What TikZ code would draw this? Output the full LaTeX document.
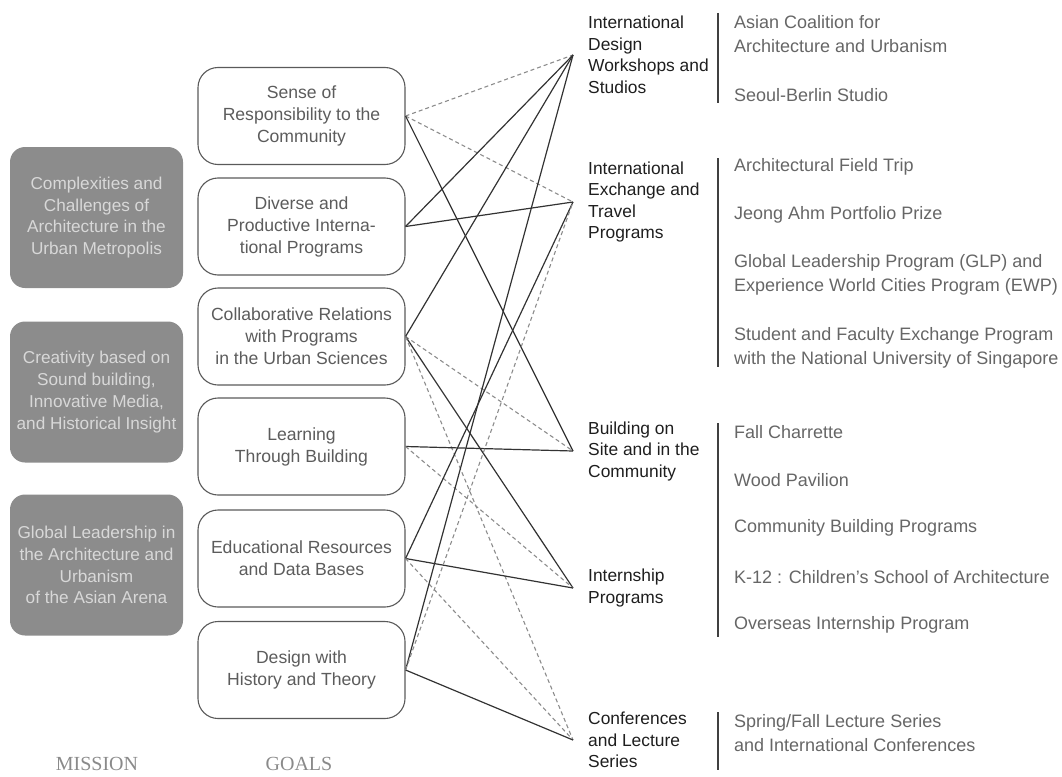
\documentclass[tikz,border=0pt]{standalone}
\usepackage{fontspec}
\setmainfont{Liberation Sans}
\newfontfamily\headfont{Liberation Serif}
\usepackage{xcolor}
\usepackage{tikz}

\definecolor{missionfill}{HTML}{8C8C8C}
\definecolor{missiontext}{HTML}{D8D8D8}
\definecolor{goalline}{HTML}{5A5A5A}
\definecolor{goaltext}{HTML}{5C5C5C}
\definecolor{areatext}{HTML}{1E1E1E}
\definecolor{entrytext}{HTML}{666666}
\definecolor{headtext}{HTML}{8A8A8A}

\begin{document}
\begin{tikzpicture}[
  x=1pt, y=-1pt,
  every node/.style={font=\fontsize{17.2}{21.7}\selectfont},
  mission/.style={rounded corners=15pt, fill=missionfill, text=missiontext,
    minimum width=173pt, minimum height=141pt, align=center, inner sep=0pt},
  goal/.style={draw=goalline, line width=1.1pt, rounded corners=20pt, text=goaltext,
    minimum width=207pt, minimum height=97pt, align=center, inner sep=0pt,
    font=\fontsize{17.6}{22}\selectfont},
  areabox/.style={anchor=west, align=left, inner xsep=15pt, inner ysep=0pt,
    text=areatext, font=\fontsize{17.4}{21.5}\selectfont},
  entry/.style={anchor=west, align=left, inner sep=0pt, text=entrytext,
    font=\fontsize{18}{24}\selectfont},
  head/.style={text=headtext, font=\headfont\fontsize{20}{24}\selectfont},
  bar/.style={draw=black!75, line width=2.4pt},
  link/.style={draw=black!80, line width=1.2pt},
  weaklink/.style={draw=black!45, line width=1.1pt, dash pattern=on 4pt off 3pt}
]
  \useasboundingbox (0,0) rectangle (1062,776);

  % mission
  \node[mission] (mcomplex) at (96.5,217.5) {Complexities and\\Challenges of\\Architecture in the\\Urban Metropolis};
  \node[mission] (mcreat) at (96.5,392) {Creativity based on\\Sound building,\\Innovative Media,\\and Historical Insight};
  \node[mission] (mlead) at (96.5,565) {Global Leadership in\\the Architecture and\\Urbanism\\of the Asian Arena};

  % goals
  \node[goal] (resp) at (301.5,116) {Sense of\\Responsibility to the\\Community};
  \node[goal] (intl) at (301.5,226.5) {Diverse and\\Productive Interna-\\tional Programs};
  \node[goal] (collab) at (301.5,336.5) {Collaborative Relations\\with Programs\\in the Urban Sciences};
  \node[goal] (learn) at (301.5,446.5) {Learning\\Through Building};
  \node[goal] (edu) at (301.5,558.5) {Educational Resources\\and Data Bases};
  \node[goal] (hist) at (301.5,670) {Design with\\History and Theory};

  \node[head] (mhead) at (97,764) {MISSION};
  \node[head] (ghead) at (299,764) {GOALS};

  % program areas
  \node[areabox] (design) at (573,55) {International\\Design\\Workshops and\\Studios};
  \node[areabox] (exch) at (573,202) {International\\Exchange and\\Travel\\Programs};
  \node[areabox] (build) at (573,451) {Building on\\Site and in the\\Community};
  \node[areabox] (intern) at (573,588) {Internship\\Programs};
  \node[areabox] (conf) at (573,740) {Conferences\\and Lecture\\Series};

  % bars
  \draw[bar] (718,13) -- (718,103);
  \draw[bar] (718,158) -- (718,367);
  \draw[bar] (718,423) -- (718,637);
  \draw[bar] (718,712) -- (718,770);

  % programs
  \node[entry] (coal) at (734,34) {Asian Coalition for\\Architecture and Urbanism};
  \node[entry] (seoul) at (734,95) {Seoul-Berlin Studio};
  \node[entry] (trip) at (734,167) {Architectural Field Trip};
  \node[entry] (prize) at (734,215) {Jeong Ahm Portfolio Prize};
  \node[entry] (glp) at (734,275) {Global Leadership Program (GLP) and\\Experience World Cities Program (EWP)};
  \node[entry] (nus) at (734,347.5) {Student and Faculty Exchange Program\\with the National University of Singapore};
  \node[entry] (charrette) at (734,432) {Fall Charrette};
  \node[entry] (pavilion) at (734,480) {Wood Pavilion};
  \node[entry] (cbp) at (734,528) {Community Building Programs};
  \node[entry] (kids) at (734,577) {K-12 : Children's School of Architecture};
  \node[entry] (overseas) at (734,625) {Overseas Internship Program};
  \node[entry] (lecture) at (734,733.5) {Spring/Fall Lecture Series\\and International Conferences};

  % goal -> area links
  \draw[weaklink] (resp.east) -- (design.west);
  \draw[weaklink] (resp.east) -- (exch.west);
  \draw[link] (resp.east) -- (build.west);
  \draw[link] (intl.east) -- (design.west);
  \draw[link] (intl.east) -- (exch.west);
  \draw[link] (collab.east) -- (design.west);
  \draw[weaklink] (collab.east) -- (build.west);
  \draw[link] (collab.east) -- (intern.west);
  \draw[weaklink] (collab.east) -- (conf.west);
  \draw[link] (learn.east) -- (build.west);
  \draw[weaklink] (learn.east) -- (intern.west);
  \draw[link] (edu.east) -- (exch.west);
  \draw[link] (edu.east) -- (intern.west);
  \draw[weaklink] (edu.east) -- (conf.west);
  \draw[link] (hist.east) -- (design.west);
  \draw[weaklink] (hist.east) -- (exch.west);
  \draw[link] (hist.east) -- (conf.west);
\end{tikzpicture}
\end{document}
